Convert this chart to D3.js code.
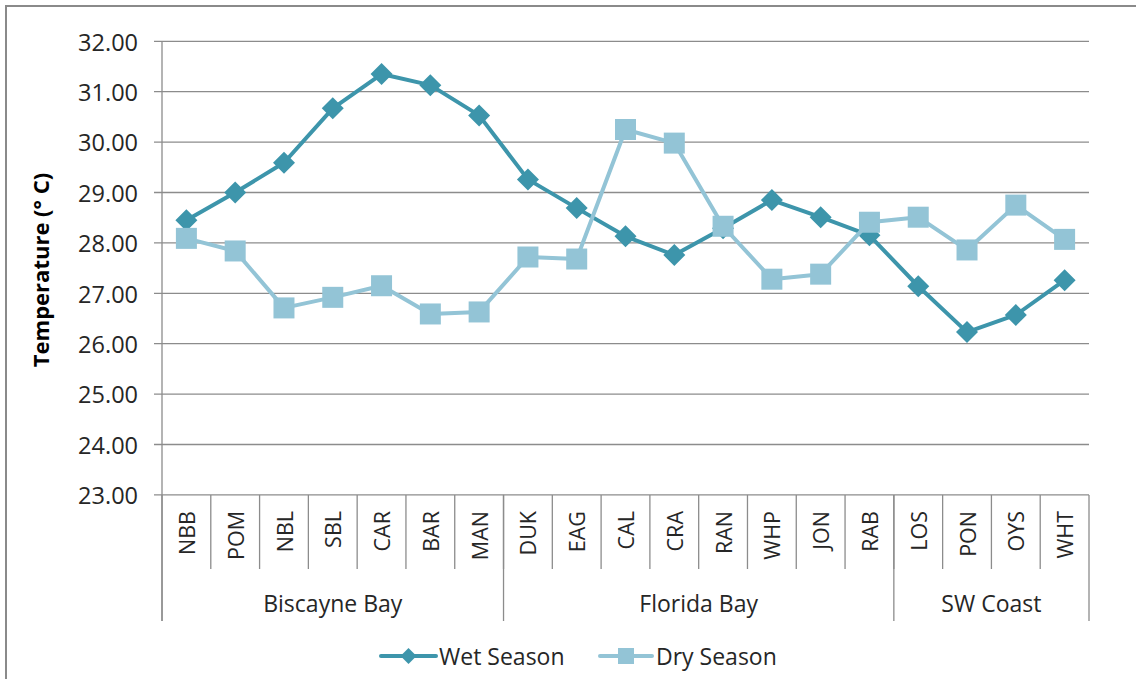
<!DOCTYPE html>
<html><head><meta charset="utf-8">
<script src="https://cdn.jsdelivr.net/npm/d3@7"></script>
<style>
html,body{margin:0;padding:0;background:#fff;}
svg{display:block;}
text{font-family:"Open Sans","Noto Sans",sans-serif;fill:#262626;}
</style></head>
<body>
<svg id="c" width="1136" height="679"></svg>
<script>
const categories = ["NBB","POM","NBL","SBL","CAR","BAR","MAN","DUK","EAG","CAL","CRA","RAN","WHP","JON","RAB","LOS","PON","OYS","WHT"];
const groups = ["Biscayne Bay","Florida Bay","SW Coast"];
const groupSizes = [7, 8, 4];
const wetSeason = [28.45,29.00,29.59,30.67,31.35,31.13,30.53,29.26,28.69,28.13,27.76,28.29,28.85,28.51,28.15,27.14,26.23,26.57,27.26];
const drySeason = [28.09,27.84,26.71,26.92,27.15,26.59,26.63,27.72,27.68,30.25,29.98,28.33,27.28,27.38,28.41,28.51,27.86,28.75,28.07];
const yTicks = [23,24,25,26,27,28,29,30,31,32];
const seriesNames = ["Wet Season","Dry Season"];

const wetColor = "#3d95ab", dryColor = "#93c4d6", gridColor = "#8c8c8c";
const svg = d3.select("#c");
const L = 162, R = 1089, T = 41.3, B = 494.9;

// outer border
svg.append("rect").attr("x",6).attr("y",6).attr("width",1140).attr("height",700)
  .attr("fill","none").attr("stroke","#8a8a8a").attr("stroke-width",2);

const x = d3.scaleBand().domain(categories).range([L,R]).paddingInner(0).paddingOuter(0);
const y = d3.scaleLinear().domain([23,32]).range([B,T]);

// gridlines
svg.append("g").selectAll("line").data(yTicks).join("line")
  .attr("x1",L-8).attr("x2",R).attr("y1",d=>y(d)).attr("y2",d=>y(d))
  .attr("stroke",gridColor).attr("stroke-width",1.3);

// y axis line
svg.append("line").attr("x1",L).attr("x2",L).attr("y1",T).attr("y2",621)
  .attr("stroke",gridColor).attr("stroke-width",1.3);
// y tick labels
svg.append("g").selectAll("text").data(yTicks).join("text")
  .attr("x",138).attr("y",d=>y(d)+1).attr("dy","0.35em").attr("text-anchor","end")
  .style("font-size","23.5px").text(d=>d.toFixed(2));

// category dividers
const catEdges = categories.map((c,i)=>x(c)).slice(1);
svg.append("g").selectAll("line").data(catEdges).join("line")
  .attr("x1",d=>d).attr("x2",d=>d).attr("y1",B).attr("y2",569)
  .attr("stroke",gridColor).attr("stroke-width",1.3);
// group dividers
let acc = 0; const groupEdges = [L]; const groupCenters = [];
groupSizes.forEach((n,i)=>{ const s = x(categories[acc]); acc += n; const e = acc<categories.length ? x(categories[acc]) : R; groupEdges.push(e); groupCenters.push((s+e)/2); });
svg.append("g").selectAll("line").data(groupEdges).join("line")
  .attr("x1",d=>d).attr("x2",d=>d).attr("y1",B).attr("y2",621)
  .attr("stroke",gridColor).attr("stroke-width",1.3);

// category labels
svg.append("g").selectAll("text").data(categories).join("text")
  .attr("transform",d=>`translate(${x(d)+x.bandwidth()/2+1},511) rotate(-90)`)
  .attr("text-anchor","end").attr("dy","0.35em").style("font-size","21.5px").text(d=>d);
// group labels
svg.append("g").selectAll("text").data(groups).join("text")
  .attr("x",(d,i)=>groupCenters[i]).attr("y",612).attr("text-anchor","middle")
  .style("font-size","23px").text(d=>d);

// y title
svg.append("text").attr("transform","translate(41,270) rotate(-90)")
  .attr("text-anchor","middle").attr("dy","0.35em")
  .style("font-size","22px").style("font-weight","bold").style("fill","#000")
  .text("Temperature (° C)");

const cx = d => x(d)+x.bandwidth()/2;
const line = d3.line().x((d,i)=>cx(categories[i])).y(d=>y(d));

function diamond(g, px, py, r, col){ g.append("path").attr("d",`M${px},${py-r}L${px+r},${py}L${px},${py+r}L${px-r},${py}Z`).attr("fill",col); }

// wet
svg.append("path").datum(wetSeason).attr("d",line).attr("fill","none").attr("stroke",wetColor).attr("stroke-width",4).attr("stroke-linejoin","round");
const gw = svg.append("g");
wetSeason.forEach((v,i)=>diamond(gw, cx(categories[i]), y(v), 11, wetColor));
// dry
svg.append("path").datum(drySeason).attr("d",line).attr("fill","none").attr("stroke",dryColor).attr("stroke-width",4).attr("stroke-linejoin","round");
svg.append("g").selectAll("rect").data(drySeason).join("rect")
  .attr("x",(d,i)=>cx(categories[i])-10.5).attr("y",d=>y(d)-10.5).attr("width",21).attr("height",21).attr("fill",dryColor);

// legend
const lg = svg.append("g");
lg.append("line").attr("x1",381).attr("x2",436).attr("y1",656).attr("y2",656).attr("stroke",wetColor).attr("stroke-width",4).attr("stroke-linecap","round");
diamond(lg, 408.5, 656, 8, wetColor);
lg.append("text").attr("x",439).attr("y",657).attr("dy","0.35em").style("font-size","23px").text(seriesNames[0]);
lg.append("line").attr("x1",600).attr("x2",652).attr("y1",656).attr("y2",656).attr("stroke",dryColor).attr("stroke-width",4).attr("stroke-linecap","round");
lg.append("rect").attr("x",618).attr("y",648).attr("width",16).attr("height",16).attr("fill",dryColor);
lg.append("text").attr("x",656).attr("y",657).attr("dy","0.35em").style("font-size","23px").text(seriesNames[1]);
</script>
</body></html>
